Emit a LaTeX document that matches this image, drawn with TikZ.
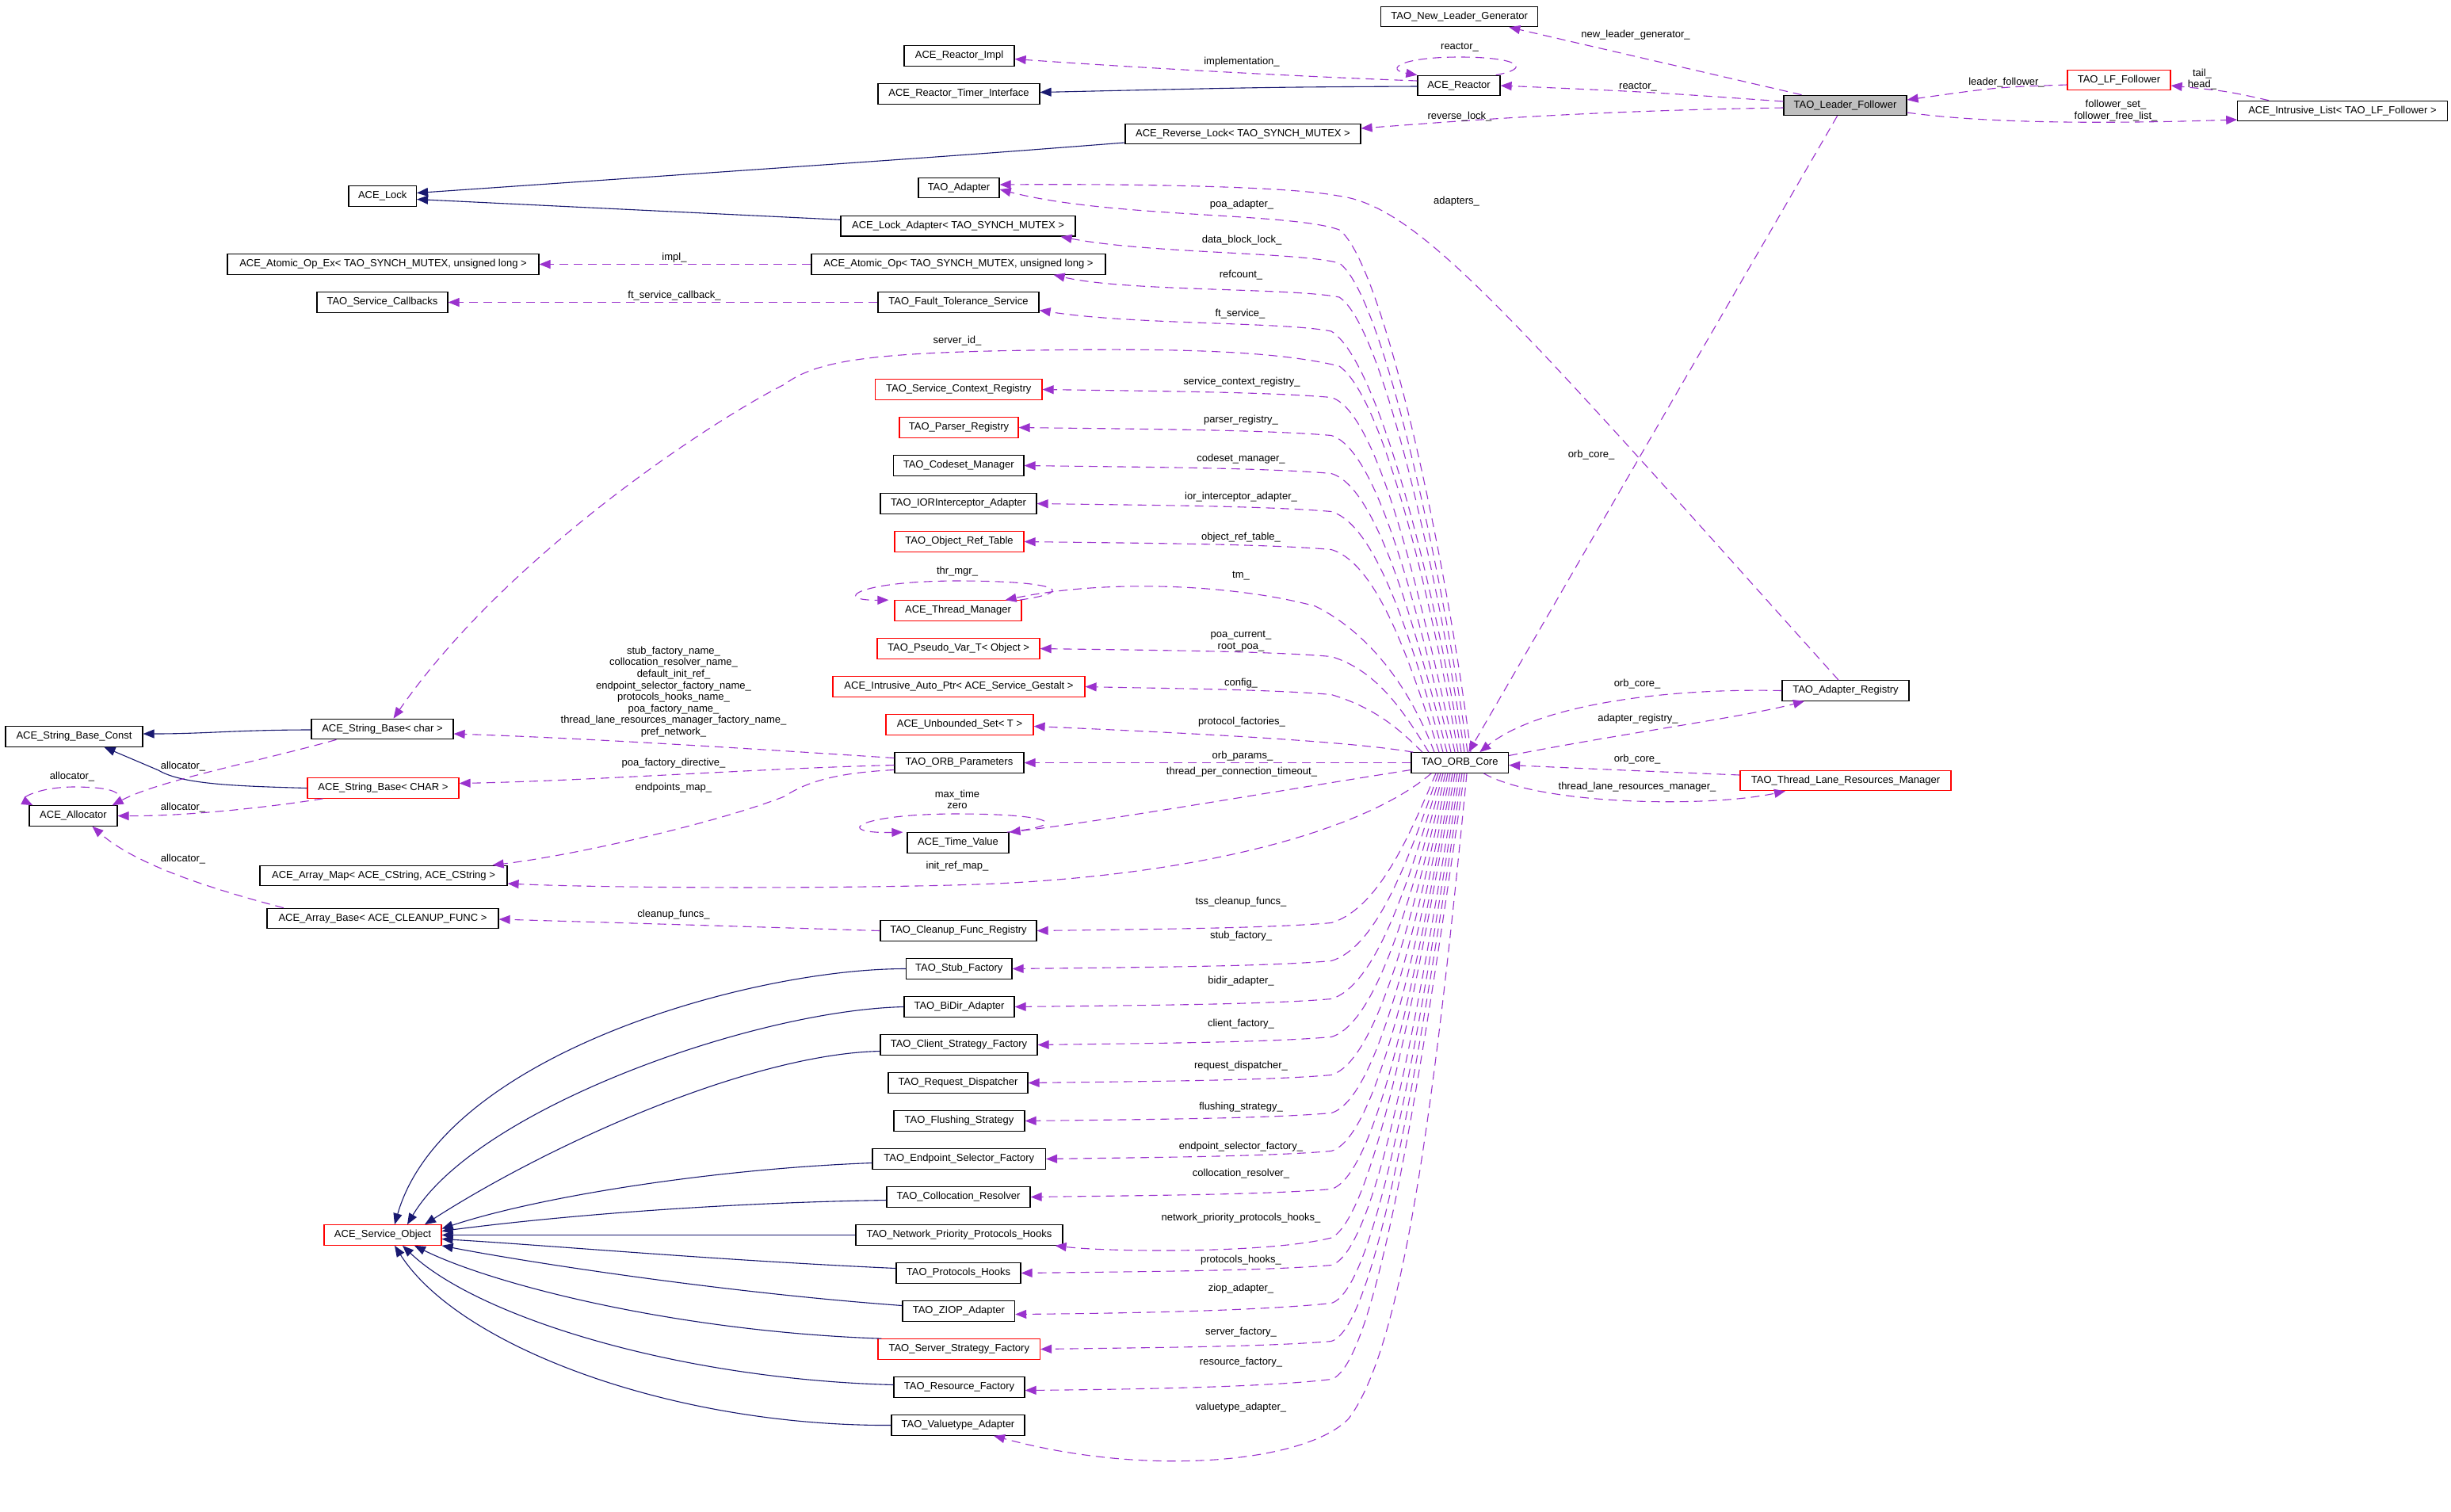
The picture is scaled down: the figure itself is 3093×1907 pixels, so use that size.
\documentclass[tikz,border=0pt]{standalone}
\usepackage{fontspec}
\setmainfont{Liberation Sans}
\usetikzlibrary{arrows.meta}
\definecolor{navyc}{HTML}{191970}
\definecolor{usec}{HTML}{9A32CD}
\begin{document}
\begin{tikzpicture}[x=1pt,y=-1pt,
  every node/.style={font=\fontsize{13}{14.6}\selectfont},
  box/.style={draw=black, line width=1.2pt, minimum height=25.5pt, inner xsep=0pt, inner ysep=0pt},
  redbox/.style={box, draw=red},
  inh/.style={draw=navyc, line width=1.1pt, -{Triangle[length=14pt,width=11pt]}},
  use/.style={draw=usec, line width=1.1pt, dash pattern=on 11pt off 7pt, -{Triangle[length=14pt,width=11pt]}},
  lbl/.style={inner sep=0pt, align=center}
]
\fill[white] (0,0) rectangle (3093,1907);
\useasboundingbox (0,0) rectangle (3093,1907);

% ---------------- nodes ----------------
\node[box, minimum width=198pt] (nlg) at (1841.7,21) {TAO\_New\_Leader\_Generator};
\node[box, minimum width=139pt] (rimpl) at (1210.5,70.5) {ACE\_Reactor\_Impl};
\node[box, minimum width=104pt] (reactor) at (1841,108) {ACE\_Reactor};
\node[box, minimum width=204pt] (rti) at (1210,118.5) {ACE\_Reactor\_Timer\_Interface};
\node[box, minimum width=155pt, fill=gray!50] (lf) at (2328.5,133) {TAO\_Leader\_Follower};
\node[redbox, minimum width=130pt] (lff) at (2674,101) {TAO\_LF\_Follower};
\node[box, minimum width=264.5pt] (ilist) at (2956,140) {ACE\_Intrusive\_List< TAO\_LF\_Follower >};
\node[box, minimum width=297pt] (rlock) at (1568.5,169) {ACE\_Reverse\_Lock< TAO\_SYNCH\_MUTEX >};
\node[box, minimum width=85.5pt] (lock) at (482.75,247.5) {ACE\_Lock};
\node[box, minimum width=102pt] (adapter) at (1210,237) {TAO\_Adapter};
\node[box, minimum width=296pt] (lockad) at (1209,285.3) {ACE\_Lock\_Adapter< TAO\_SYNCH\_MUTEX >};
\node[box, minimum width=393pt] (aopex) at (483.5,333.5) {ACE\_Atomic\_Op\_Ex< TAO\_SYNCH\_MUTEX, unsigned long >};
\node[box, minimum width=371pt] (aop) at (1209.5,333.5) {ACE\_Atomic\_Op< TAO\_SYNCH\_MUTEX, unsigned long >};
\node[box, minimum width=165pt] (scb) at (482.5,381.5) {TAO\_Service\_Callbacks};
\node[box, minimum width=203pt] (fts) at (1209.5,381.5) {TAO\_Fault\_Tolerance\_Service};
\node[redbox, minimum width=210.5pt] (scr) at (1209.75,491.5) {TAO\_Service\_Context\_Registry};
\node[redbox, minimum width=150pt] (preg) at (1210,539.5) {TAO\_Parser\_Registry};
\node[box, minimum width=164.5pt] (csm) at (1209.75,587.5) {TAO\_Codeset\_Manager};
\node[box, minimum width=197pt] (ior) at (1209.5,635.5) {TAO\_IORInterceptor\_Adapter};
\node[redbox, minimum width=163pt] (ort) at (1210.5,683.5) {TAO\_Object\_Ref\_Table};
\node[redbox, minimum width=160pt] (thrm) at (1209,770.5) {ACE\_Thread\_Manager};
\node[redbox, minimum width=205pt] (pvt) at (1209.5,818.5) {TAO\_Pseudo\_Var\_T< Object >};
\node[redbox, minimum width=318pt] (iap) at (1210,866.5) {ACE\_Intrusive\_Auto\_Ptr< ACE\_Service\_Gestalt >};
\node[redbox, minimum width=186pt] (uset) at (1211,914.5) {ACE\_Unbounded\_Set< T >};
\node[box, minimum width=163pt] (orbp) at (1210.5,962.5) {TAO\_ORB\_Parameters};
\node[box, minimum width=122.5pt] (orbc) at (1842.25,962.5) {TAO\_ORB\_Core};
\node[box, minimum width=128pt] (tv) at (1209,1063.5) {ACE\_Time\_Value};
\node[box, minimum width=197pt] (cfr) at (1209.5,1174.5) {TAO\_Cleanup\_Func\_Registry};
\node[box, minimum width=133.4pt] (stub) at (1210.3,1222.5) {TAO\_Stub\_Factory};
\node[box, minimum width=139pt] (bidir) at (1210.5,1270.5) {TAO\_BiDir\_Adapter};
\node[box, minimum width=198pt] (csf) at (1210,1318.5) {TAO\_Client\_Strategy\_Factory};
\node[box, minimum width=176pt] (rd) at (1209,1366.5) {TAO\_Request\_Dispatcher};
\node[box, minimum width=165pt] (fs) at (1210.5,1414.5) {TAO\_Flushing\_Strategy};
\node[box, minimum width=218.5pt] (esf) at (1210.25,1462.5) {TAO\_Endpoint\_Selector\_Factory};
\node[box, minimum width=181pt] (cr) at (1209.5,1510.5) {TAO\_Collocation\_Resolver};
\node[box, minimum width=261pt] (npph) at (1210.5,1558.5) {TAO\_Network\_Priority\_Protocols\_Hooks};
\node[box, minimum width=157pt] (ph) at (1209.5,1606.5) {TAO\_Protocols\_Hooks};
\node[box, minimum width=141.6pt] (ziop) at (1209.8,1654.5) {TAO\_ZIOP\_Adapter};
\node[redbox, minimum width=204.5pt] (ssf) at (1210.25,1702.5) {TAO\_Server\_Strategy\_Factory};
\node[box, minimum width=165pt] (rf) at (1210.5,1750.5) {TAO\_Resource\_Factory};
\node[box, minimum width=168pt] (vta) at (1209,1798.5) {TAO\_Valuetype\_Adapter};
\node[redbox, minimum width=148pt] (so) at (483,1558.5) {ACE\_Service\_Object};
\node[box, minimum width=173pt] (sbc) at (93.5,929.5) {ACE\_String\_Base\_Const};
\node[box, minimum width=179pt] (sbchar) at (482.5,920) {ACE\_String\_Base< char >};
\node[redbox, minimum width=191pt] (sbCHAR) at (483.5,994.5) {ACE\_String\_Base< CHAR >};
\node[box, minimum width=111pt] (alloc) at (92.5,1029.5) {ACE\_Allocator};
\node[box, minimum width=312pt] (amap) at (484,1105) {ACE\_Array\_Map< ACE\_CString, ACE\_CString >};
\node[box, minimum width=292pt] (abase) at (483,1159) {ACE\_Array\_Base< ACE\_CLEANUP\_FUNC >};
\node[box, minimum width=160pt] (areg) at (2329,871.5) {TAO\_Adapter\_Registry};
\node[redbox, minimum width=266pt] (tlrm) at (2329,985) {TAO\_Thread\_Lane\_Resources\_Manager};

% ---------------- inheritance (navy) ----------------
\draw[inh] ([yshift=-1pt]reactor.west) .. controls (1600,110) .. ([yshift=2pt]rti.east);
\draw[inh] ([yshift=-11pt]rlock.west) .. controls (1200,197) .. ([yshift=4pt]lock.east);
\draw[inh] ([yshift=8pt]lockad.west) -- ([yshift=-4pt]lock.east);
\draw[inh] ([yshift=-1pt]sbchar.west) .. controls (300,921) and (260,926) .. ([yshift=3.5pt]sbc.east);
\draw[inh] (sbCHAR.west) .. controls (300,992) and (230,990) .. (200,972) -- ([xshift=38pt]sbc.south);
\draw[inh] (stub.west) .. controls (950,1222) and (560,1330) .. ([xshift=15pt]so.north);
\draw[inh] (bidir.west) .. controls (950,1275) and (600,1400) .. ([xshift=31pt]so.north);
\draw[inh] ([yshift=-8pt]csf.west) .. controls (950,1330) and (700,1440) .. ([xshift=53pt]so.north);
\draw[inh] ([yshift=-5pt]esf.west) .. controls (900,1475) and (680,1510) .. ([yshift=8pt]so.east);
\draw[inh] ([yshift=-4pt]cr.west) .. controls (900,1518) and (700,1535) .. ([yshift=5pt]so.east);
\draw[inh] (npph.west) -- (so.east);
\draw[inh] ([yshift=6pt]ph.west) .. controls (900,1590) and (700,1572) .. ([yshift=-5pt]so.east);
\draw[inh] ([yshift=7pt]ziop.west) .. controls (900,1630) and (650,1590) .. (so.south east);
\draw[inh] ([xshift=5pt]ssf.north west) .. controls (850,1680) and (620,1620) .. ([xshift=40pt]so.south);
\draw[inh] ([yshift=3pt]rf.west) .. controls (850,1740) and (600,1660) .. ([xshift=25pt]so.south);
\draw[inh] (vta.west) .. controls (850,1800) and (580,1700) .. ([xshift=15pt]so.south);

% ---------------- usage (purple dashed) ----------------
% Leader follower area
\draw[use] ([xshift=-55pt]lf.north) -- ([xshift=-37pt]nlg.south east);
\draw[use] ([yshift=5pt]lf.west) .. controls (2080,116) .. (reactor.east);
\draw[use] ([yshift=-3pt]lf.west) .. controls (2000,140) and (1850,152) .. ([yshift=7pt]rlock.east);
\draw[use] ([xshift=-10pt]lf.south) -- ([xshift=11pt]orbc.north);
\draw[use] ([yshift=-9pt]lf.east) .. controls (2520,158) and (2700,155) .. ([yshift=-11pt]ilist.west);
\draw[use] ([yshift=-6pt]lff.west) .. controls (2520,110) .. ([yshift=7pt]lf.east);
\draw[use] ([xshift=-93pt]ilist.north) .. controls (2810,115) .. ([yshift=-7pt]lff.east);
\draw[use] ([yshift=6pt]reactor.west) .. controls (1600,95) and (1400,83) .. ([yshift=-4pt]rimpl.east);
\draw[use] ([xshift=-6pt]reactor.north east) .. controls (1935,86) and (1915,72) .. (1842,72) .. controls (1765,72) and (1748,88) .. (reactor.north west);
\draw[use] (aop.west) -- (aopex.east);
\draw[use] (fts.west) -- (scb.east);

% adapter registry
\draw[use] ([xshift=-9pt]areg.north) .. controls (1900,390) and (1790,260) .. (1688,247) .. controls (1620,234) and (1400,232) .. ([yshift=4pt]adapter.east);
\draw[use] (areg.west) .. controls (2100,868) and (1940,890) .. ([xshift=25pt]orbc.north);
\draw[use] ([yshift=9pt]orbc.east) .. controls (2050,925) and (2200,905) .. ([xshift=-52pt]areg.south);
\draw[use] ([yshift=7pt]tlrm.west) .. controls (2050,972) .. ([yshift=-3pt]orbc.east);
\draw[use] ([xshift=30pt]orbc.south) .. controls (1940,1015) and (2150,1020) .. ([xshift=-76pt]tlrm.south);

% ORB core upper fan
\draw[use] ([xshift=13.75pt]orbc.north) .. controls (1825,700) and (1745,330) .. (1690,290) .. controls (1630,268) and (1400,275) .. ([yshift=-2pt]adapter.east);
\draw[use] ([xshift=9.75pt]orbc.north) .. controls (1820,720) and (1745,370) .. (1690,332) .. controls (1640,318) and (1450,320) .. ([xshift=-19pt]lockad.south east);
\draw[use] ([xshift=5.75pt]orbc.north) .. controls (1815,730) and (1745,410) .. (1690,375) .. controls (1630,363) and (1420,368) .. ([xshift=-66pt]aop.south east);
\draw[use] ([xshift=1.75pt]orbc.north) .. controls (1810,740) and (1740,455) .. (1680,418) .. controls (1620,406) and (1430,410) .. ([yshift=-10pt]fts.east);
\draw[use] ([xshift=-2.25pt]orbc.north) .. controls (1805,750) and (1745,500) .. (1690,462) .. controls (1600,440) and (1450,440) .. (1300,442) .. controls (1100,445) and (1030,455) .. (990,485) .. controls (900,530) and (640,700) .. ([xshift=14pt]sbchar.north);
\draw[use] ([xshift=-6.25pt]orbc.north) .. controls (1792.8,756.3) and (1740,519.5) .. (1680,501.5) .. controls (1600,494.5) and (1450,493.5) .. (scr.east);
\draw[use] ([xshift=-11.25pt]orbc.north) .. controls (1790,777.9) and (1740,567.5) .. (1680,549.5) .. controls (1600,542.5) and (1450,541.5) .. (preg.east);
\draw[use] ([xshift=-16.25pt]orbc.north) .. controls (1787.3,799.5) and (1740,615.5) .. (1680,597.5) .. controls (1600,590.5) and (1450,589.5) .. (csm.east);
\draw[use] ([xshift=-21.25pt]orbc.north) .. controls (1784.5,821.1) and (1740,663.5) .. (1680,645.5) .. controls (1600,638.5) and (1450,637.5) .. (ior.east);
\draw[use] ([xshift=-26.25pt]orbc.north) .. controls (1781.8,842.7) and (1740,711.5) .. (1680,693.5) .. controls (1600,686.5) and (1450,685.5) .. (ort.east);
\draw[use] ([xshift=-32.25pt]orbc.north) .. controls (1780,870) and (1730,800) .. (1660,765) .. controls (1560,738) and (1400,730) .. ([xshift=-21pt]thrm.north east);
\draw[use] ([xshift=-3pt]thrm.north east) .. controls (1370,745) and (1320,733) .. (1210,733) .. controls (1080,733) and (1050,758) .. ([xshift=-7pt]thrm.north west);
\draw[use] ([xshift=-39.25pt]orbc.north) .. controls (1774.6,903.4) and (1740,846.5) .. (1680,828.5) .. controls (1600,821.5) and (1450,820.5) .. (pvt.east);
\draw[use] ([xshift=-47.25pt]orbc.north) .. controls (1770.3,925) and (1740,894.5) .. (1680,876.5) .. controls (1600,869.5) and (1450,868.5) .. (iap.east);
\draw[use] ([xshift=3pt]orbc.north west) .. controls (1700,935) and (1500,925) .. ([yshift=-2pt]uset.east);
\draw[use] (orbc.west) -- (orbp.east);
\draw[use] ([yshift=-9pt]orbc.west) .. controls (1600,1000) and (1400,1035) .. (tv.north east);
\draw[use] ([xshift=-3pt]tv.north east) .. controls (1360,1040) and (1320,1027) .. (1208,1027) .. controls (1080,1027) and (1050,1052) .. ([xshift=-5pt]tv.north west);
\draw[use] ([xshift=-36pt]orbc.south) .. controls (1720,1050) and (1500,1110) .. (1200,1117) .. controls (1000,1122) and (750,1120) .. ([yshift=-10pt]amap.east);

% ORB core lower fan
\draw[use] ([xshift=-30.25pt]orbc.south) .. controls (1779.6,1052.2) and (1740,1146.5) .. (1680,1164.5) .. controls (1600,1171.5) and (1450,1172.5) .. (cfr.east);
\draw[use] ([xshift=-27.25pt]orbc.south) .. controls (1781.3,1073.8) and (1740,1194.5) .. (1680,1212.5) .. controls (1600,1219.5) and (1450,1220.5) .. (stub.east);
\draw[use] ([xshift=-24.25pt]orbc.south) .. controls (1782.9,1095.4) and (1740,1242.5) .. (1680,1260.5) .. controls (1600,1267.5) and (1450,1268.5) .. (bidir.east);
\draw[use] ([xshift=-21.25pt]orbc.south) .. controls (1784.6,1117) and (1740,1290.5) .. (1680,1308.5) .. controls (1600,1315.5) and (1450,1316.5) .. (csf.east);
\draw[use] ([xshift=-18.25pt]orbc.south) .. controls (1786.2,1138.6) and (1740,1338.5) .. (1680,1356.5) .. controls (1600,1363.5) and (1450,1364.5) .. (rd.east);
\draw[use] ([xshift=-15.25pt]orbc.south) .. controls (1787.9,1160.2) and (1740,1386.5) .. (1680,1404.5) .. controls (1600,1411.5) and (1450,1412.5) .. (fs.east);
\draw[use] ([xshift=-12.25pt]orbc.south) .. controls (1789.5,1181.8) and (1740,1434.5) .. (1680,1452.5) .. controls (1600,1459.5) and (1450,1460.5) .. (esf.east);
\draw[use] ([xshift=-9.25pt]orbc.south) .. controls (1791.2,1203.4) and (1740,1482.5) .. (1680,1500.5) .. controls (1600,1507.5) and (1450,1508.5) .. (cr.east);
\draw[use] ([xshift=-6.25pt]orbc.south) .. controls (1790.6,1227) and (1735,1535) .. (1680,1562) .. controls (1600,1582) and (1400,1580) .. ([xshift=-10pt]npph.south east);
\draw[use] ([xshift=-3.25pt]orbc.south) .. controls (1794.5,1246.6) and (1740,1578.5) .. (1680,1596.5) .. controls (1600,1603.5) and (1450,1604.5) .. (ph.east);
\draw[use] ([xshift=-0.25pt]orbc.south) .. controls (1796.1,1268.2) and (1740,1626.5) .. (1680,1644.5) .. controls (1600,1653) and (1450,1657) .. ([yshift=-4pt]ziop.east);
\draw[use] ([xshift=2.75pt]orbc.south) .. controls (1797.75,1289.8) and (1740,1674.5) .. (1680,1692.5) .. controls (1600,1699.5) and (1450,1700.5) .. (ssf.east);
\draw[use] ([xshift=5.75pt]orbc.south) .. controls (1799.4,1311.4) and (1740,1722.5) .. (1680,1740.5) .. controls (1600,1750) and (1450,1753) .. ([yshift=-4pt]rf.east);
\draw[use] ([xshift=8.75pt]orbc.south) .. controls (1810,1400) and (1770,1700) .. (1702,1790) .. controls (1650,1845) and (1450,1865) .. ([xshift=45pt]vta.south);

% ORB parameters / strings / allocator
\draw[use] ([yshift=6pt]orbp.west) .. controls (950,945) and (750,932) .. ([yshift=-6pt]sbchar.east);
\draw[use] ([yshift=-3pt]orbp.west) .. controls (950,970) and (750,985) .. ([yshift=6pt]sbCHAR.east);
\draw[use] ([yshift=-9pt]orbp.west) .. controls (1060,975) and (1020,985) .. (990,1005) .. controls (900,1040) and (720,1080) .. ([xshift=-19pt]amap.north east);
\draw[use] (cfr.west) .. controls (900,1168) .. ([yshift=-1pt]abase.east);
\draw[use] ([xshift=-125pt]abase.north) .. controls (260,1120) and (170,1090) .. ([xshift=24pt]alloc.south);
\draw[use] ([xshift=-58pt]sbchar.south) .. controls (330,960) and (200,985) .. ([xshift=-7pt]alloc.north east);
\draw[use] ([xshift=-76pt]sbCHAR.south) .. controls (330,1020) and (230,1030) .. (alloc.east);
\draw[use] ([xshift=-5pt]alloc.north east) .. controls (165,997) and (130,993) .. (91,993) .. controls (45,994) and (25,1008) .. ([xshift=5pt]alloc.north west);

% ---------------- labels ----------------
\node[lbl] (l1) at (2064,44) {new\_leader\_generator\_};
\node[lbl] (l2) at (2067,110) {reactor\_};
\node[lbl] (l3) at (1842,60) {reactor\_};
\node[lbl] (l4) at (2532,104) {leader\_follower\_};
\node[lbl] (l5) at (2779,100) {tail\_\\head\_};
\node[lbl] (l6) at (2670,139.5) {follower\_set\_\\follower\_free\_list\_};
\node[lbl] (l7) at (1842,147) {reverse\_lock\_};
\node[lbl] (l8) at (1567,78) {implementation\_};
\node[lbl] (l9) at (1838,254) {adapters\_};
\node[lbl] (l10) at (1567,258) {poa\_adapter\_};
\node[lbl] (l11) at (1567,303) {data\_block\_lock\_};
\node[lbl] (l12) at (851,325) {impl\_};
\node[lbl] (l13) at (1566,347) {refcount\_};
\node[lbl] (l14) at (851,373) {ft\_service\_callback\_};
\node[lbl] (l15) at (1565,396) {ft\_service\_};
\node[lbl] (l16) at (1208,430) {server\_id\_};
\node[lbl] (l17) at (2008,574) {orb\_core\_};
\node[lbl] (l18) at (1567,482) {service\_context\_registry\_};
\node[lbl] (l19) at (1566,530) {parser\_registry\_};
\node[lbl] (l20) at (1566,579) {codeset\_manager\_};
\node[lbl] (l21) at (1566,627) {ior\_interceptor\_adapter\_};
\node[lbl] (l22) at (1566,678) {object\_ref\_table\_};
\node[lbl] (l23) at (1208,721) {thr\_mgr\_};
\node[lbl] (l24) at (1566,727) {tm\_};
\node[lbl] (l25) at (1566,809) {poa\_current\_\\root\_poa\_};
\node[lbl] (l26) at (1566,862) {config\_};
\node[lbl] (l27) at (1567,911) {protocol\_factories\_};
\node[lbl] (l28) at (1568,954) {orb\_params\_};
\node[lbl] (l29) at (1567,974) {thread\_per\_connection\_timeout\_};
\node[lbl] (l30) at (2066,863) {orb\_core\_};
\node[lbl] (l31) at (2067,907) {adapter\_registry\_};
\node[lbl] (l32) at (2066,958) {orb\_core\_};
\node[lbl] (l33) at (2066,993) {thread\_lane\_resources\_manager\_};
\node[lbl] (l34) at (850,873) {stub\_factory\_name\_\\collocation\_resolver\_name\_\\default\_init\_ref\_\\endpoint\_selector\_factory\_name\_\\protocols\_hooks\_name\_\\poa\_factory\_name\_\\thread\_lane\_resources\_manager\_factory\_name\_\\pref\_network\_};
\node[lbl] (l35) at (850,963) {poa\_factory\_directive\_};
\node[lbl] (l36) at (850,994) {endpoints\_map\_};
\node[lbl] (l37) at (1208,1009) {max\_time\\zero};
\node[lbl] (l38) at (1208,1093) {init\_ref\_map\_};
\node[lbl] (l39) at (231,967) {allocator\_};
\node[lbl] (l40) at (91,980) {allocator\_};
\node[lbl] (l41) at (231,1019) {allocator\_};
\node[lbl] (l42) at (231,1084) {allocator\_};
\node[lbl] (l43) at (850,1154) {cleanup\_funcs\_};
\node[lbl] (l44) at (1566,1138) {tss\_cleanup\_funcs\_};
\node[lbl] (l45) at (1566,1181) {stub\_factory\_};
\node[lbl] (l46) at (1566,1238) {bidir\_adapter\_};
\node[lbl] (l47) at (1566,1292) {client\_factory\_};
\node[lbl] (l48) at (1566,1345) {request\_dispatcher\_};
\node[lbl] (l49) at (1566,1397) {flushing\_strategy\_};
\node[lbl] (l50) at (1566,1447) {endpoint\_selector\_factory\_};
\node[lbl] (l51) at (1566,1481) {collocation\_resolver\_};
\node[lbl] (l52) at (1566,1537) {network\_priority\_protocols\_hooks\_};
\node[lbl] (l53) at (1566,1590) {protocols\_hooks\_};
\node[lbl] (l54) at (1566,1626) {ziop\_adapter\_};
\node[lbl] (l55) at (1566,1681) {server\_factory\_};
\node[lbl] (l56) at (1566,1719) {resource\_factory\_};
\node[lbl] (l57) at (1566,1776) {valuetype\_adapter\_};
\end{tikzpicture}
\end{document}
